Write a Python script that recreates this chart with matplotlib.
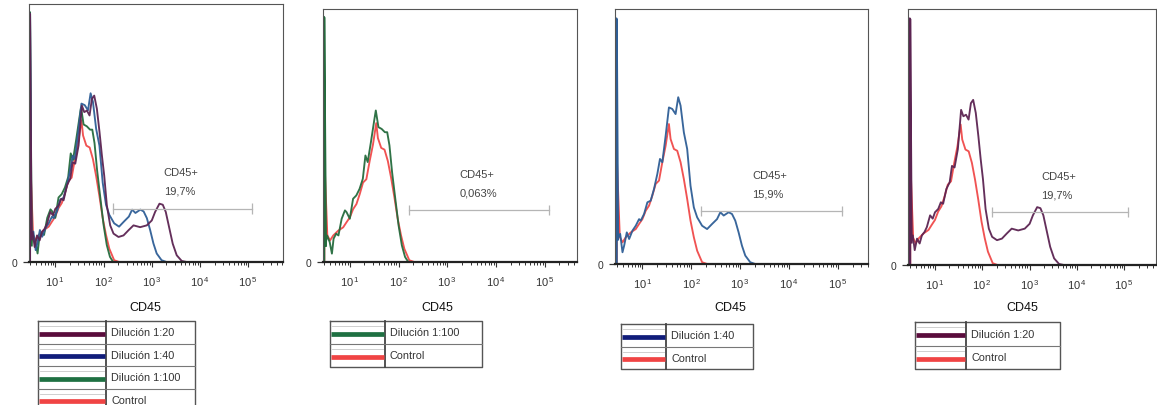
import numpy as np
import matplotlib.pyplot as plt
from matplotlib.ticker import LogLocator, NullFormatter

plt.rcParams['font.family'] = ['Liberation Sans', 'DejaVu Sans']
plt.rcParams['mathtext.default'] = 'regular'

W, H = 1157, 406

# histogram traces, x in decades (log10 of CD45 intensity), y in % of max
dil20_log = [0.465, 0.465, 0.497, 0.531, 0.572, 0.621, 0.676, 0.724, 0.779, 0.828, 0.897, 0.952,
             1.0, 1.069, 1.124, 1.172, 1.241, 1.310, 1.359, 1.414, 1.483, 1.552, 1.600, 1.655,
             1.710, 1.759, 1.807, 1.862, 1.917, 1.966, 2.014, 2.069, 2.138, 2.207, 2.310, 2.414,
             2.517, 2.621, 2.759, 2.897, 3.0, 3.069, 3.159, 3.228, 3.290, 3.366, 3.434, 3.517,
             3.621, 3.724, 5.75]
dil20_y = [0, 96.1, 9.0, 11.6, 5.8, 10.3, 8.4, 11.6, 12.9, 14.8, 19.4, 18.1,
           20.6, 21.9, 24.5, 23.9, 29.7, 32.3, 38.7, 38.1, 45.2, 60.6, 58.1, 58.7,
           56.8, 63.2, 64.5, 59.4, 50.3, 41.3, 33.5, 21.9, 14.2, 11.0, 9.7, 10.3,
           12.3, 14.2, 13.5, 14.2, 16.1, 19.4, 22.6, 22.2, 19.4, 12.9, 7.1, 2.6,
           0.4, 0, 0]

dil40_log = [0.465, 0.465, 0.492, 0.546, 0.593, 0.627, 0.681, 0.729, 0.797, 0.864, 0.932, 0.966,
             1.034, 1.102, 1.169, 1.237, 1.305, 1.359, 1.407, 1.475, 1.542, 1.610, 1.678, 1.732,
             1.780, 1.847, 1.915, 1.983, 2.051, 2.119, 2.220, 2.322, 2.424, 2.525, 2.593, 2.661,
             2.763, 2.831, 2.898, 2.966, 3.034, 3.102, 3.203, 3.305, 5.75]
dil40_y = [0, 96.1, 9.8, 11.8, 4.6, 7.2, 12.4, 9.8, 13.1, 15.0, 17.6, 17.0,
           19.6, 24.2, 24.8, 29.4, 35.3, 41.2, 39.9, 50.3, 61.4, 60.8, 58.8, 65.4,
           62.1, 51.6, 45.1, 30.7, 22.2, 18.3, 15.0, 13.7, 15.7, 17.6, 20.3, 19.0,
           20.3, 19.6, 17.0, 12.4, 7.2, 3.3, 0.7, 0, 0]

dil100_log = [0.465, 0.465, 0.5, 0.533, 0.587, 0.633, 0.667, 0.72, 0.767, 0.833, 0.9, 0.933,
              1.0, 1.067, 1.133, 1.2, 1.267, 1.32, 1.367, 1.433, 1.5, 1.533, 1.587, 1.653,
              1.72, 1.767, 1.813, 1.867, 1.933, 2.0, 2.067, 2.133, 2.2, 5.75]
dil100_y = [0, 96.7, 6.6, 10.5, 7.9, 3.3, 9.2, 11.2, 10.5, 17.1, 20.4, 19.7,
            17.1, 25.0, 26.3, 28.9, 32.9, 42.1, 39.5, 47.4, 55.9, 59.9, 53.3, 52.6,
            51.3, 51.3, 46.1, 35.5, 25.0, 14.5, 6.6, 2.0, 0, 0]

control_log = [0.465, 0.465, 0.525, 0.593, 0.661, 0.763, 0.864, 0.932, 1.0, 1.068, 1.136, 1.203,
               1.271, 1.339, 1.407, 1.475, 1.542, 1.576, 1.644, 1.712, 1.780, 1.847, 1.915,
               1.983, 2.051, 2.119, 2.220, 2.322, 5.75]
control_y = [0, 42, 11.1, 8.5, 10.5, 12.4, 13.7, 15.7, 17.6, 20.9, 22.9, 26.8,
             31.4, 32.7, 39.9, 46.4, 54.9, 49.0, 45.1, 44.4, 39.9, 33.3, 25.5,
             17.0, 10.5, 5.2, 0.7, 0, 0]

labels = {'d20': 'Dilución 1:20', 'd40': 'Dilución 1:40', 'd100': 'Dilución 1:100', 'ctrl': 'Control'}
gate_text = ['19,7%', '0,063%', '15,9%', '19,7%']
gate_lo, gate_hi, gate_y = 160, 1.2e5, 20.7
decade_ticks = [1e1, 1e2, 1e3, 1e4, 1e5]
decade_labels = ['$10^{\\,1}$', '$10^{\\,2}$', '$10^{\\,3}$', '$10^{\\,4}$', '$10^{\\,5}$']

data = {'d20': (dil20_log, dil20_y), 'd40': (dil40_log, dil40_y),
        'd100': (dil100_log, dil100_y), 'ctrl': (control_log, control_y)}
curve_col = {'d20': '#5c2452', 'd40': '#2e5e96', 'd100': '#256b3d', 'ctrl': '#f04a4a'}
legend_col = {'d20': '#5a0c3c', 'd40': '#101c7a', 'd100': '#1e7042', 'ctrl': '#f04444'}

# panel layout in pixels: axes box, xlim in decades, legend box + divider, CD45 label x
panels = [
    dict(show=['ctrl', 'd100', 'd40', 'd20'], legend=['d20', 'd40', 'd100', 'ctrl'],
         box=(29, 5, 283, 263), xl=(0.455, 5.72), leg=(38, 322, 195, 22.5), div=106, lab=145),
    dict(show=['ctrl', 'd100'], legend=['d100', 'ctrl'],
         box=(323, 10, 577, 263), xl=(0.45, 5.66), leg=(330, 322, 482, 23), div=385, lab=437),
    dict(show=['ctrl', 'd40'], legend=['d40', 'ctrl'],
         box=(615, 10, 868, 265), xl=(0.44, 5.61), leg=(621, 325, 753, 22.5), div=666, lab=730),
    dict(show=['ctrl', 'd20'], legend=['d20', 'ctrl'],
         box=(908, 10, 1156, 266), xl=(0.43, 5.67), leg=(915, 323, 1060, 23.5), div=966, lab=1022),
]


def px_rect(x0, y0, x1, y1):
    return [x0 / W, 1 - y1 / H, (x1 - x0) / W, (y1 - y0) / H]


fig = plt.figure(figsize=(W / 100, H / 100), dpi=100)

for i, p in enumerate(panels):
    ax = fig.add_axes(px_rect(*p['box']))
    for name in p['show']:
        lx, ly = data[name]
        xs = 10 ** np.array(lx)
        # first bin (off-scale events) drawn as the heavy spike at the left edge
        ax.plot(xs[:3], ly[:3], color=curve_col[name], lw=2.2, solid_joinstyle='round')
        ax.plot(xs[2:], ly[2:], color=curve_col[name], lw=1.35,
                solid_joinstyle='round', alpha=0.95)
    ax.set_xscale('log')
    ax.set_xlim(10 ** p['xl'][0], 10 ** p['xl'][1])
    ax.set_ylim(0, 100)

    # gate bar and label
    ax.plot([gate_lo, gate_hi], [gate_y, gate_y], color='#b5b5b5', lw=0.9)
    ax.vlines([gate_lo, gate_hi], gate_y - 2, gate_y + 2, color='#b5b5b5', lw=0.9)
    ax.text(10 ** 3.25, 34.8, 'CD45+', fontsize=8, color='#444444', va='center')
    ax.text(10 ** 3.25, 27.6, gate_text[i], fontsize=8, color='#444444', va='center')

    ax.set_xticks(decade_ticks)
    ax.set_xticklabels(decade_labels)
    ax.xaxis.set_minor_locator(LogLocator(base=10, subs=np.arange(2, 10)))
    ax.xaxis.set_minor_formatter(NullFormatter())
    ax.set_yticks([0])
    ax.set_yticklabels(['0'])
    ax.tick_params(axis='x', which='major', length=3.5, width=0.8, pad=5,
                   labelsize=8, colors='#333333')
    ax.tick_params(axis='x', which='minor', length=2.2, width=0.7, color='#333333')
    ax.tick_params(axis='y', length=4.5, width=0.9, pad=4, labelsize=7.5, colors='#333333')
    for s in ['top', 'right', 'left']:
        ax.spines[s].set_linewidth(0.8)
        ax.spines[s].set_color('#555555')
    ax.spines['bottom'].set_linewidth(1.6)
    ax.spines['bottom'].set_color('#222222')

# overlay in pixel coordinates for axis titles and the legend tables
ov = fig.add_axes([0, 0, 1, 1])
ov.set_xlim(0, W)
ov.set_ylim(H, 0)
ov.axis('off')
ov.patch.set_alpha(0)

for p in panels:
    ov.text(p['lab'], 308, 'CD45', ha='center', va='center', fontsize=9, color='#111111')
    x0, y0, x1, rh = p['leg']
    n = len(p['legend'])
    y1 = y0 + n * rh
    ov.plot([x0, x1, x1, x0, x0], [y0, y0, y1, y1, y0], color='#555555', lw=1.0)
    ov.plot([p['div'], p['div']], [y0, y1], color='#444444', lw=1.3)
    for k, name in enumerate(p['legend']):
        top = y0 + k * rh
        if k > 0:
            ov.plot([x0, x1], [top, top], color='#777777', lw=0.8)
        ov.plot([x0 + 2, p['div'] - 2], [top + 5, top + 5], color='#c8c8c8', lw=0.6)
        ov.plot([x0 + 1, p['div'] - 1], [top + rh * 0.57, top + rh * 0.57],
                color=legend_col[name], lw=3.4, solid_capstyle='butt')
        ov.text(p['div'] + 5, top + rh / 2, labels[name], fontsize=7.8, color='#333333',
                va='center', ha='left')

fig.savefig('out.png', dpi=100)
